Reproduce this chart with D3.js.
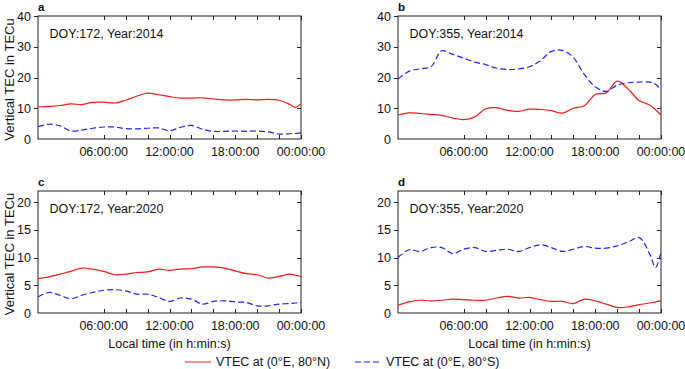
<!DOCTYPE html>
<html>
<head>
<meta charset="utf-8">
<script src="https://cdn.jsdelivr.net/npm/d3@7"></script>
<style>
  body { margin: 0; background: #fff; }
  svg { display: block; font-family: "Liberation Sans", Arial, sans-serif; }
</style>
</head>
<body>
<div id="chart"></div>
<script>
// Local time in hours (shared by all panels)
const hours = [0,1,2,3,4,5,6,7,8,9,10,11,12,13,14,15,16,17,18,19,20,21,22,23,23.5,24];
const xTickHours = [6,8,10,12,14,16,18,20,22,24];
const xTickLabels = { 6: "06:00:00", 12: "12:00:00", 18: "18:00:00", 24: "00:00:00" };

// VTEC at (0°E, 80°N) / (0°E, 80°S) per panel
const northA = [10.4,10.6,10.9,11.4,11.2,11.9,12.0,11.7,12.6,13.9,14.9,14.4,13.8,13.3,13.3,13.4,13.0,12.7,12.7,12.9,12.7,12.9,12.6,11.2,10.3,11.5];
const southA = [4.0,4.8,4.3,2.6,2.9,3.5,3.9,3.9,3.4,3.3,3.5,3.6,2.7,3.8,4.4,3.2,2.5,2.5,2.6,2.5,2.6,2.3,1.6,1.7,1.8,2.0];
const northB = [7.8,8.5,8.3,8.0,7.7,6.8,6.3,7.2,9.8,10.2,9.3,9.0,9.7,9.6,9.2,8.4,10.0,10.8,14.5,15.0,18.8,16.3,12.5,11.0,9.5,7.8];
const southB = [19.5,22.0,22.8,23.5,28.7,27.5,26.3,25.0,24.2,23.0,22.6,22.8,23.5,25.5,28.5,28.8,26.5,21.0,17.0,15.5,17.5,18.3,18.5,18.5,17.8,16.0];
const northC = [6.2,6.5,7.0,7.5,8.1,7.9,7.5,6.9,7.0,7.3,7.4,7.9,7.7,7.9,8.0,8.3,8.3,8.1,7.6,7.1,6.9,6.3,6.6,7.0,6.8,6.6];
const southC = [2.9,3.7,3.2,2.6,3.2,3.7,4.1,4.2,4.0,3.4,3.4,2.8,2.1,2.7,2.5,1.6,2.1,2.2,2.0,1.9,1.3,1.3,1.6,1.7,1.8,1.9];
const northD = [1.4,2.0,2.3,2.2,2.3,2.5,2.4,2.3,2.3,2.7,3.0,2.7,2.8,2.4,2.1,2.1,1.7,2.5,2.2,1.6,1.0,1.1,1.5,1.8,2.0,2.2];
const southD = [10.0,11.4,11.1,11.8,11.8,10.7,11.5,11.8,11.1,11.3,11.5,11.1,11.8,12.3,11.8,11.1,11.5,12.0,11.7,11.7,12.1,12.8,13.6,10.5,8.2,11.0];

const panelLetters = ["a","b","c","d"];
const panelTitles = ["DOY:172, Year:2014","DOY:355, Year:2014","DOY:172, Year:2020","DOY:355, Year:2020"];
const yMaxes = [40, 40, 22, 22];
const yTicks = [[0,10,20,30,40],[0,10,20,30,40],[0,5,10,15,20],[0,5,10,15,20]];
const northSeries = [northA, northB, northC, northD];
const southSeries = [southA, southB, southC, southD];

const legendLabels = ["VTEC at (0°E, 80°N)", "VTEC at (0°E, 80°S)"];

const W = 685, H = 369;
const red = "#f31c1c", blue = "#2323f0";

const svg = d3.select("#chart").append("svg")
  .attr("width", W).attr("height", H);

// panel boxes: [left, top, right, bottom]
const boxes = [[38,16,301,139],[398,16,661,139],[38,191,301,313],[398,191,661,313]];

boxes.forEach((b, i) => {
  const [x0, y0, x1, y1] = b;
  const x = d3.scaleLinear().domain([0, 24]).range([x0, x1]);
  const y = d3.scaleLinear().domain([0, yMaxes[i]]).range([y1, y0]);
  const g = svg.append("g");

  // frame
  g.append("rect").attr("x", x0).attr("y", y0)
    .attr("width", x1 - x0).attr("height", y1 - y0)
    .attr("fill", "none").attr("stroke", "#222").attr("stroke-width", 1);

  // x ticks (inward top and bottom)
  xTickHours.forEach(h => {
    const xp = Math.round(x(h)) + 0.5;
    g.append("line").attr("x1", xp).attr("x2", xp).attr("y1", y1).attr("y2", y1 - 4).attr("stroke", "#222");
    g.append("line").attr("x1", xp).attr("x2", xp).attr("y1", y0).attr("y2", y0 + 4).attr("stroke", "#222");
    if (xTickLabels[h]) {
      g.append("text").attr("x", x(h)).attr("y", y1 + 16.5)
        .attr("text-anchor", "middle").attr("font-size", 12.5).attr("fill", "#111")
        .text(xTickLabels[h]);
    }
  });

  // y ticks: left outward, right inward
  yTicks[i].forEach(v => {
    const yp = Math.round(y(v)) + 0.5;
    if (v > 0 && v < yMaxes[i]) {
      g.append("line").attr("x1", x0).attr("x2", x0 - 4).attr("y1", yp).attr("y2", yp).attr("stroke", "#222");
      g.append("line").attr("x1", x1).attr("x2", x1 - 4).attr("y1", yp).attr("y2", yp).attr("stroke", "#222");
    } else if (v === yMaxes[i]) {
      g.append("line").attr("x1", x0).attr("x2", x0 - 4).attr("y1", yp).attr("y2", yp).attr("stroke", "#222");
    }
    g.append("text").attr("x", x0 - 7).attr("y", y(v) + 4.5)
      .attr("text-anchor", "end").attr("font-size", 12.5).attr("fill", "#111")
      .text(v);
  });

  const line = d3.line()
    .x((d, k) => x(hours[k]))
    .y(d => y(d))
    .curve(d3.curveCatmullRom.alpha(0.5));

  g.append("path").datum(northSeries[i])
    .attr("d", line).attr("fill", "none")
    .attr("stroke", red).attr("stroke-width", 1.2);

  g.append("path").datum(southSeries[i])
    .attr("d", line).attr("fill", "none")
    .attr("stroke", blue).attr("stroke-width", 1.2)
    .attr("stroke-dasharray", "6,3");

  // title inside panel
  g.append("text").attr("x", x0 + 11.5).attr("y", y0 + 21.5)
    .attr("font-size", 12.5).attr("fill", "#111").text(panelTitles[i]);

  // panel letter
  g.append("text").attr("x", x0).attr("y", y0 - 5.5)
    .attr("font-size", 11.5).attr("font-weight", "bold").attr("fill", "#111")
    .text(panelLetters[i]);

  // y axis label on left panels
  if (i % 2 === 0) {
    g.append("text")
      .attr("transform", `translate(14,${(y0 + y1) / 2 + 2}) rotate(-90)`)
      .attr("text-anchor", "middle").attr("font-size", 13).attr("fill", "#111")
      .text("Vertical TEC in TECu");
  }
  // x axis label on bottom panels
  if (i >= 2) {
    g.append("text").attr("x", (x0 + x1) / 2).attr("y", 347.5)
      .attr("text-anchor", "middle").attr("font-size", 12.5).attr("fill", "#111")
      .text("Local time (in h:min:s)");
  }
});

// legend
const legend = svg.append("g");
const legendItems = [
  { label: legendLabels[0], color: "#f46a6a", dash: null, x: 185 },
  { label: legendLabels[1], color: "#6b6bf4", dash: "6,3", x: 355 }
];
legendItems.forEach(d => {
  legend.append("line").attr("x1", d.x).attr("x2", d.x + 26)
    .attr("y1", 362).attr("y2", 362)
    .attr("stroke", d.color).attr("stroke-width", 1.5)
    .attr("stroke-dasharray", d.dash);
  legend.append("text").attr("x", d.x + 31).attr("y", 366)
    .attr("font-size", 12.5).attr("fill", "#111").text(d.label);
});
</script>
</body>
</html>
